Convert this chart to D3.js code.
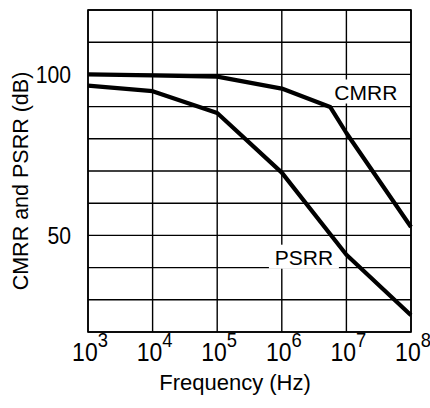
<!DOCTYPE html>
<html>
  <head>
    <meta charset="utf-8">
    <title>CMRR and PSRR vs frequency</title>
    <script src="https://d3js.org/d3.v7.min.js"></script>
    <style>
      body { margin: 0; background: #fff; }
      text { font-family: "Liberation Sans", Arial, sans-serif; fill: #000; }
    </style>
  </head>
  <body>
    <div id="chart"></div>
    <script>
      // data
      const freqTicks = [1e3, 1e4, 1e5, 1e6, 1e7, 1e8];
      const freqExponents = ["3", "4", "5", "6", "7", "8"];
      const dbGrid = [20, 30, 40, 50, 60, 70, 80, 90, 100, 110, 120];
      const dbLabels = [50, 100];

      const cmrrFreq = [1e3, 1e4, 1e5, 1e6, 5.6e6, 1e7, 1e8];
      const cmrrDb = [100, 99.7, 99.3, 95.6, 89.9, 81.8, 52.6];
      const psrrFreq = [1e3, 1e4, 1e5, 1e6, 1e7, 1e8];
      const psrrDb = [96.5, 94.8, 88, 69.5, 44, 25.2];

      const width = 430, height = 408;
      const margin = { top: 10, right: 19, bottom: 76, left: 88 };

      const svg = d3.select("#chart")
        .append("svg")
        .attr("width", width)
        .attr("height", height);

      const x = d3.scaleLog()
        .domain([1e3, 1e8])
        .range([margin.left, width - margin.right]);
      const y = d3.scaleLinear()
        .domain([20, 120])
        .range([height - margin.bottom, margin.top]);

      // grid
      const grid = svg.append("g")
        .attr("stroke", "#000")
        .attr("stroke-width", 1.4);
      grid.selectAll(".vgrid")
        .data(freqTicks)
        .join("line")
        .attr("x1", d => x(d)).attr("x2", d => x(d))
        .attr("y1", y(20)).attr("y2", y(120));
      grid.selectAll(".hgrid")
        .data(dbGrid)
        .join("line")
        .attr("x1", x(1e3)).attr("x2", x(1e8))
        .attr("y1", d => y(d)).attr("y2", d => y(d));

      // curve labels on white patches
      const labels = [
        { text: "CMRR", f: 2.0e7, db: 92.2 },
        { text: "PSRR", f: 2.2e6, db: 40.9 }
      ];
      const lab = svg.selectAll(".lab")
        .data(labels)
        .join("g")
        .attr("transform", d => `translate(${x(d.f)},${y(d.db)})`);
      lab.append("rect")
        .attr("x", -35).attr("y", -20)
        .attr("width", 70).attr("height", 24)
        .attr("fill", "#fff");
      lab.append("text")
        .attr("text-anchor", "middle")
        .attr("font-size", 21)
        .text(d => d.text);

      // curves
      const line = d3.line()
        .x(d => x(d[0]))
        .y(d => y(d[1]));
      const series = [d3.zip(cmrrFreq, cmrrDb), d3.zip(psrrFreq, psrrDb)];
      svg.selectAll(".curve")
        .data(series)
        .join("path")
        .attr("d", line)
        .attr("fill", "none")
        .attr("stroke", "#000")
        .attr("stroke-width", 4.2)
        .attr("stroke-linejoin", "round");

      // frame
      svg.append("rect")
        .attr("x", x(1e3)).attr("y", y(120))
        .attr("width", x(1e8) - x(1e3))
        .attr("height", y(20) - y(120))
        .attr("fill", "none")
        .attr("stroke", "#000")
        .attr("stroke-width", 1.6);

      // x tick labels (powers of ten), narrow-ish digits
      const xt = svg.selectAll(".xt")
        .data(freqTicks)
        .join("text")
        .attr("transform", d => `translate(${x(d) + 2},${height - margin.bottom + 29}) scale(0.92,1)`)
        .attr("text-anchor", "middle")
        .attr("font-size", 25);
      xt.append("tspan").text("10");
      xt.append("tspan")
        .attr("dy", -14)
        .attr("font-size", 20)
        .text((d, i) => freqExponents[i]);

      // y tick labels
      svg.selectAll(".yt")
        .data(dbLabels)
        .join("text")
        .attr("transform", d => `translate(${margin.left - 17},${y(d) + 8.5}) scale(0.88,1)`)
        .attr("text-anchor", "end")
        .attr("font-size", 24)
        .text(d => d);

      // axis titles
      svg.append("text")
        .attr("x", 235)
        .attr("y", 390)
        .attr("text-anchor", "middle")
        .attr("font-size", 22)
        .text("Frequency (Hz)");
      svg.append("text")
        .attr("transform", "translate(28,181) rotate(-90)")
        .attr("text-anchor", "middle")
        .attr("font-size", 21.5)
        .text("CMRR and PSRR (dB)");
    </script>
  </body>
</html>
